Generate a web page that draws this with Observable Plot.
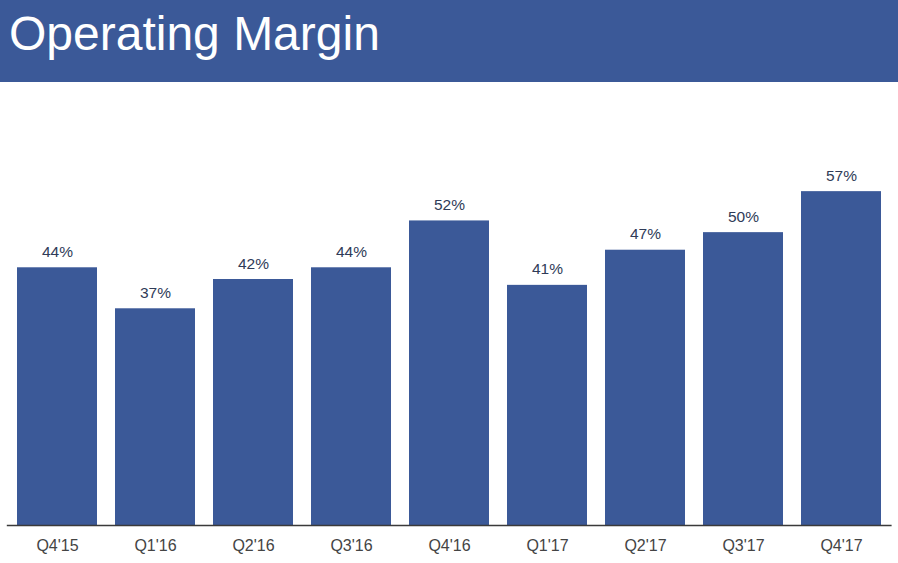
<!DOCTYPE html>
<html>
<head>
<meta charset="utf-8">
<script src="https://cdn.jsdelivr.net/npm/d3@7"></script>
<script src="https://cdn.jsdelivr.net/npm/@observablehq/plot@0.6"></script>
<style>
  html, body { margin: 0; padding: 0; background: #fff; }
  body { width: 898px; height: 563px; overflow: hidden; font-family: "Liberation Sans", Arial, sans-serif; }
  #header { height: 82px; background: #3b5998; position: relative; }
  #header h1 { margin: 0; position: absolute; left: 9px; top: 5px; font-weight: normal; font-size: 48px; color: #fff; line-height: 58px; font-family: "Liberation Sans", Arial, sans-serif; }
  #chart svg { display: block; }
</style>
</head>
<body>
<div id="header"><h1>Operating Margin</h1></div>
<div id="chart"></div>
<script>
const quarters = ["Q4'15", "Q1'16", "Q2'16", "Q3'16", "Q4'16", "Q1'17", "Q2'17", "Q3'17", "Q4'17"];
const margins = [44, 37, 42, 44, 52, 41, 47, 50, 57];

const data = quarters.map((q, i) => ({quarter: q, margin: margins[i]}));

const chart = Plot.plot({
  width: 898,
  height: 481,
  marginLeft: 6.8,
  marginRight: 6.4,
  marginTop: 33,
  marginBottom: 38,
  style: {fontFamily: "'Liberation Sans', Arial, sans-serif", fontSize: "15px", background: "#fff"},
  x: {domain: quarters, paddingInner: 0.185, paddingOuter: 0.0925, label: null},
  y: {domain: [0, 70], axis: null},
  marks: [
    Plot.barY(data, {x: "quarter", y: "margin", fill: "#3b5998"}),
    Plot.ruleY([0], {stroke: "#3a3a3a", strokeWidth: 1.3}),
    Plot.text(data, {x: "quarter", y: "margin", text: d => d.margin + "%", lineAnchor: "bottom", dy: -11, fill: "#2f3b58", fontSize: 15.5}),
    Plot.axisX({tickSize: 0, tickPadding: 14, fontSize: 16, color: "#444", label: null})
  ]
});
document.getElementById("chart").appendChild(chart);
</script>
</body>
</html>
